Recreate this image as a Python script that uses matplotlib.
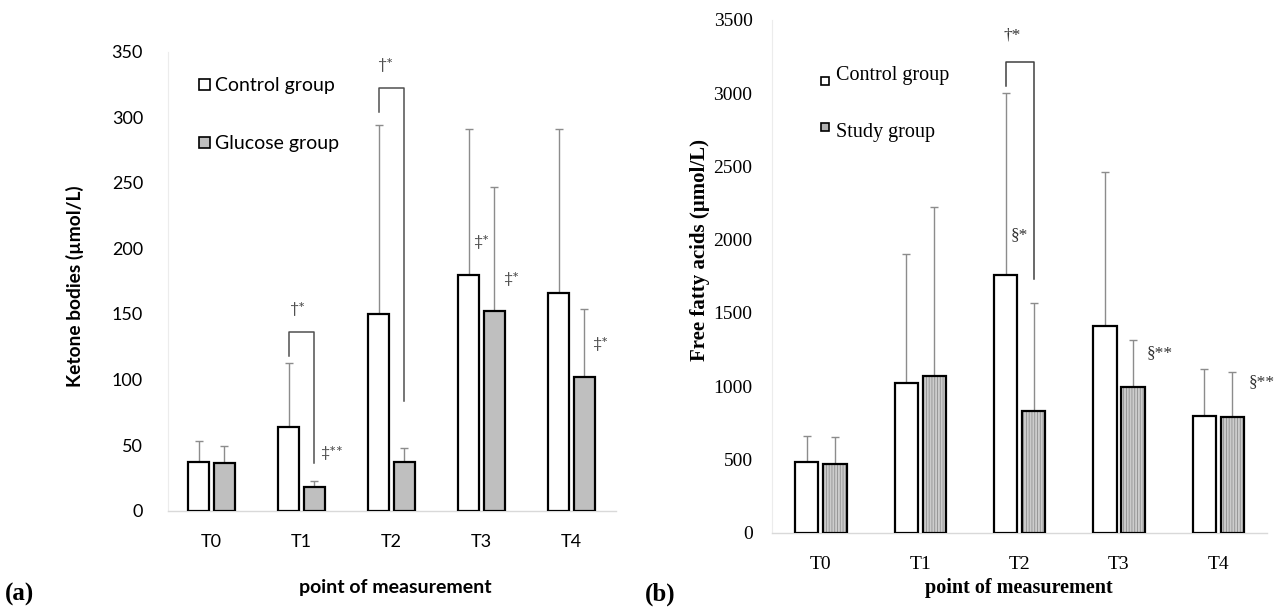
import numpy as np
import matplotlib
matplotlib.use("Agg")
import matplotlib.pyplot as plt
from matplotlib.patches import Rectangle

# ── data ─────────────────────────────────────────────────────────────────
groups = ["T0", "T1", "T2", "T3", "T4"]

ketone_control = [37, 64, 150, 180, 166]
ketone_control_sd = [16, 49, 144, 111, 125]
ketone_glucose = [36, 18, 37, 152, 102]
ketone_glucose_sd = [13, 5, 11, 95, 52]

ffa_control = [480, 1024, 1758, 1410, 796]
ffa_control_sd = [178, 878, 1242, 1052, 319]
ffa_study = [469, 1071, 832, 996, 791]
ffa_study_sd = [185, 1152, 733, 318, 307]

W, H = 1276, 607
SANS = ["Lato", "DejaVu Sans"]
SERIF = ["Liberation Serif", "DejaVu Serif"]
GREY = "#bfbfbf"
ERR = "#8c8c8c"
NOTE = "#505050"

plt.rcParams["hatch.linewidth"] = 0.6


def fx(px):
    return px / W


def fy(py):
    return 1 - py / H


def axes_px(fig, x0, x1, ytop, ybot):
    return fig.add_axes([fx(x0), fy(ybot), (x1 - x0) / W, (ybot - ytop) / H])


def style_axes(ax):
    for s in ("top", "right"):
        ax.spines[s].set_visible(False)
    ax.spines["left"].set_color("#ececec")
    ax.spines["left"].set_linewidth(0.8)
    ax.spines["bottom"].set_color("#d9d9d9")
    ax.spines["bottom"].set_linewidth(1.0)
    ax.tick_params(length=0)


fig = plt.figure(figsize=(W / 100, H / 100), dpi=100)
fig.patch.set_facecolor("white")

# ── (a) ketone bodies ────────────────────────────────────────────────────
ax = axes_px(fig, 168, 616, 51.7, 510.7)
x = np.arange(len(groups))
bw, off = 0.233, 0.142
ax.bar(x - off, ketone_control, bw, color="white", edgecolor="black",
       linewidth=1.6, zorder=3)
ax.bar(x + off, ketone_glucose, bw, color=GREY, edgecolor="black",
       linewidth=1.6, zorder=3)
ax.errorbar(x - off, ketone_control, yerr=[np.zeros(5), ketone_control_sd],
            fmt="none", ecolor=ERR, elinewidth=1, capsize=3, capthick=1,
            zorder=2)
ax.errorbar(x + off, ketone_glucose, yerr=[np.zeros(5), ketone_glucose_sd],
            fmt="none", ecolor=ERR, elinewidth=1, capsize=3, capthick=1,
            zorder=2)
ax.set_xlim(-0.483, 4.494)
ax.set_ylim(0, 350)
ax.set_yticks(range(0, 351, 50))
ax.set_xticks(x)
ax.set_xticklabels(groups)
style_axes(ax)
ax.tick_params(axis="y", pad=18)
ax.tick_params(axis="x", pad=17)
for lab in ax.get_xticklabels() + ax.get_yticklabels():
    lab.set_family(SANS)
    lab.set_fontsize(13)
    lab.set_color("#000000")

# brackets + significance marks
ax.plot([1 - off, 1 - off, 1 + off, 1 + off], [118, 136, 136, 36],
        color=NOTE, lw=1.1, zorder=4)
ax.plot([2 - off, 2 - off, 2 + off, 2 + off], [304, 322, 322, 84],
        color=NOTE, lw=1.1, zorder=4)
for tx, ty, s in [(0.955, 154, "†*"), (1.93, 340, "†*"),
                  (1.205, 44, "‡**"), (2.905, 205, "‡*"),
                  (3.24, 177, "‡*"), (4.23, 127, "‡*")]:
    ha = "center" if s == "†*" else "left"
    ax.text(tx, ty, s, ha=ha, va="center", fontsize=11.5, color=NOTE,
            family=SANS)

# legend
fig.add_artist(Rectangle((fx(199), fy(90)), 11 / W, 11 / H, facecolor="white",
                         edgecolor="black", lw=1.2, transform=fig.transFigure))
fig.add_artist(Rectangle((fx(199), fy(148)), 11 / W, 11 / H, facecolor=GREY,
                         edgecolor="black", lw=1.2, transform=fig.transFigure))
fig.text(fx(215), fy(85), "Control group", fontsize=14, family=SANS,
         va="center", ha="left", color="#000000")
fig.text(fx(215), fy(144), "Glucose group", fontsize=14, family=SANS,
         va="center", ha="left", color="#000000")

fig.text(fx(75), fy(286), "Ketone bodies (µmol/L)", rotation=90,
         fontsize=13.8, fontweight="bold", family=SANS, ha="center",
         va="center")
fig.text(fx(395), fy(588), "point of measurement", fontsize=14,
         fontweight="bold", family=SANS, ha="center", va="center")
fig.text(fx(20), fy(594), "(a)", fontsize=18, fontweight="bold",
         family=SERIF, ha="center", va="center")

# ── (b) free fatty acids ─────────────────────────────────────────────────
bx = axes_px(fig, 772, 1267, 20, 532.7)
bw2, off2 = 0.232, 0.141
bx.bar(x - off2, ffa_control, bw2, color="white", edgecolor="black",
       linewidth=1.6, zorder=3)
bx.bar(x + off2, ffa_study, bw2, color="#cccccc", edgecolor="#8f8f8f",
       linewidth=0, hatch="||||||", zorder=3)
bx.bar(x + off2, ffa_study, bw2, color="none", edgecolor="black",
       linewidth=1.6, zorder=3)
bx.errorbar(x - off2, ffa_control, yerr=[np.zeros(5), ffa_control_sd],
            fmt="none", ecolor=ERR, elinewidth=1, capsize=3, capthick=1,
            zorder=2)
bx.errorbar(x + off2, ffa_study, yerr=[np.zeros(5), ffa_study_sd],
            fmt="none", ecolor=ERR, elinewidth=1, capsize=3, capthick=1,
            zorder=2)
bx.set_xlim(-0.493, 4.49)
bx.set_ylim(0, 3500)
bx.set_yticks(range(0, 3501, 500))
bx.set_xticks(x)
bx.set_xticklabels(groups)
style_axes(bx)
bx.tick_params(axis="y", pad=14)
bx.tick_params(axis="x", pad=17)
for lab in bx.get_xticklabels() + bx.get_yticklabels():
    lab.set_family(SERIF)
    lab.set_fontsize(14)
    lab.set_color("#000000")

bx.plot([2 - off2, 2 - off2, 2 + off2, 2 + off2], [3050, 3216, 3216, 1730],
        color="#404040", lw=1.1, zorder=4)
bx.text(1.92, 3395, "†*", ha="center", va="center", fontsize=12.5,
        color="#333333", family=SERIF)
for tx, ty, s in [(1.905, 2030, "§*"), (3.277, 1226, "§**"),
                  (4.31, 1030, "§**")]:
    bx.text(tx, ty, s, ha="left", va="center", fontsize=12.5, color="#333333",
            family=SERIF)

fig.add_artist(Rectangle((fx(821), fy(84.5)), 8 / W, 8 / H, facecolor="white",
                         edgecolor="black", lw=1.2, transform=fig.transFigure))
fig.add_artist(Rectangle((fx(821), fy(131)), 8 / W, 8 / H, facecolor="#b0b0b0",
                         edgecolor="black", lw=1.2, transform=fig.transFigure))
fig.text(fx(836), fy(80), "Control group", fontsize=14.5, family=SERIF,
         va="baseline", ha="left", color="#000000")
fig.text(fx(836), fy(137), "Study group", fontsize=14.5, family=SERIF,
         va="baseline", ha="left", color="#000000")

fig.text(fx(700), fy(250), "Free fatty acids (µmol/L)", rotation=90,
         fontsize=15, fontweight="bold", family=SERIF, ha="center",
         va="center")
fig.text(fx(1019), fy(588), "point of measurement", fontsize=14.5,
         fontweight="bold", family=SERIF, ha="center", va="center")
fig.text(fx(660), fy(594), "(b)", fontsize=18, fontweight="bold",
         family=SERIF, ha="center", va="center")

fig.savefig("out.png", dpi=100, facecolor="white")
